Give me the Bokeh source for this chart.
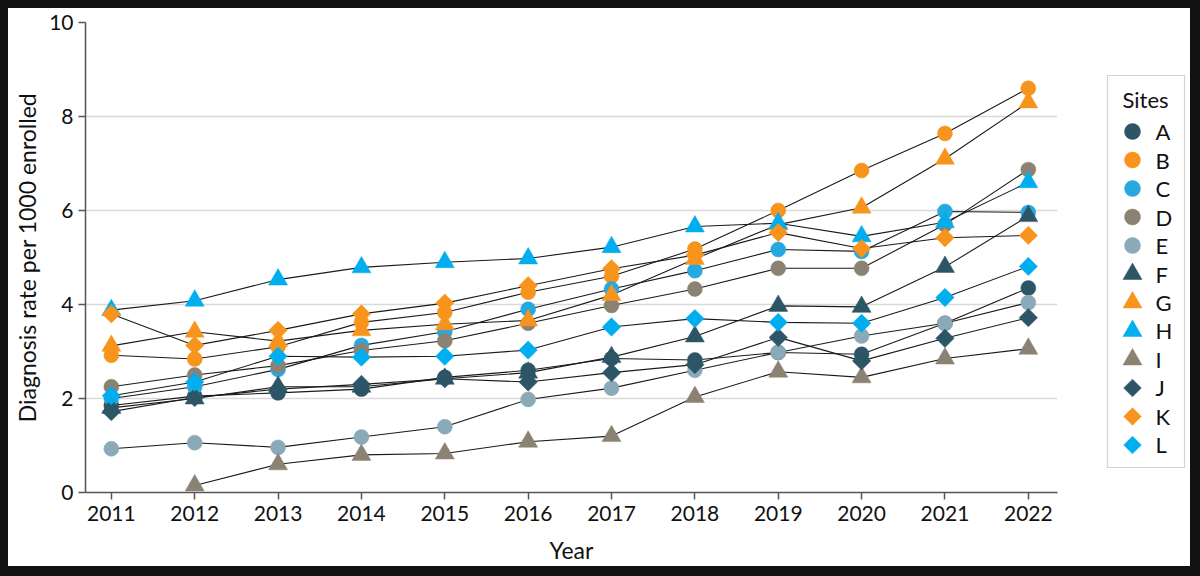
import numpy as np
from bokeh.plotting import figure
from bokeh.layouts import row
from bokeh.core.properties import value
from bokeh.models import (FixedTicker, GlobalInlineStyleSheet, Range1d, Label,
                          ColumnDataSource, BoxAnnotation)
from bokeh.embed import file_html
from bokeh.resources import INLINE

years = [2011, 2012, 2013, 2014, 2015, 2016, 2017, 2018, 2019, 2020, 2021, 2022]
nan = float("nan")

site_A = [1.85, 2.05, 2.12, 2.20, 2.45, 2.60, 2.85, 2.82, 2.98, 2.94, 3.60, 4.35]
site_B = [2.92, 2.84, 3.10, 3.62, 3.83, 4.26, 4.60, 5.18, 6.00, 6.85, 7.64, 8.60]
site_C = [2.00, 2.25, 2.62, 3.13, 3.42, 3.90, 4.33, 4.72, 5.17, 5.13, 5.98, 5.96]
site_D = [2.25, 2.50, 2.70, 3.02, 3.23, 3.60, 3.98, 4.33, 4.77, 4.77, 5.70, 6.87]
site_E = [0.93, 1.06, 0.96, 1.18, 1.40, 1.98, 2.22, 2.60, 2.98, 3.33, 3.60, 4.04]
site_F = [1.80, 2.00, 2.25, 2.25, 2.42, 2.55, 2.88, 3.32, 3.97, 3.95, 4.80, 5.88]
site_G = [3.12, 3.42, 3.22, 3.45, 3.58, 3.66, 4.20, 4.97, 5.70, 6.06, 7.10, 8.30]
site_H = [3.88, 4.08, 4.53, 4.79, 4.90, 4.98, 5.22, 5.66, 5.73, 5.45, 5.75, 6.60]
site_I = [nan, 0.15, 0.60, 0.80, 0.83, 1.08, 1.20, 2.03, 2.57, 2.45, 2.85, 3.06]
site_J = [1.72, 2.02, 2.20, 2.30, 2.42, 2.35, 2.55, 2.72, 3.30, 2.80, 3.28, 3.72]
site_K = [3.80, 3.13, 3.45, 3.80, 4.03, 4.40, 4.76, 5.05, 5.53, 5.19, 5.42, 5.47]
site_L = [2.06, 2.35, 2.90, 2.88, 2.90, 3.03, 3.52, 3.70, 3.62, 3.60, 4.15, 4.81]

site_names = ["A", "B", "C", "D", "E", "F", "G", "H", "I", "J", "K", "L"]
site_values = [site_A, site_B, site_C, site_D, site_E, site_F,
               site_G, site_H, site_I, site_J, site_K, site_L]

y_ticks = [0, 2, 4, 6, 8, 10]

TEAL = "#2c5566"
ORANGE = "#f7941d"
BLUE = "#00aeef"
TAUPE = "#8c8273"
GREYBLUE = "#8aa9b9"
site_colors = [TEAL, ORANGE, "#25a9e0", TAUPE, GREYBLUE,
               TEAL, ORANGE, BLUE, TAUPE,
               TEAL, ORANGE, BLUE]
site_markers = ["circle"] * 5 + ["triangle"] * 4 + ["square"] * 3
marker_size = {"circle": 15, "triangle": 19, "square": 13}
marker_angle = {"circle": 0.0, "triangle": 0.0, "square": np.pi / 4}

FONT = "Lato"
TXT = "#111111"

# ---------------- main chart ----------------
p = figure(width=1092, height=558, output_backend="svg", toolbar_location=None,
           x_range=(2010.69, 2022.35), y_range=(0, 10),
           min_border_left=77, min_border_right=43, min_border_top=14,
           min_border_bottom=74)
p.stylesheets = [GlobalInlineStyleSheet(
    css="html, body { background: #111111 !important; } "
        "body { padding: 8px !important; box-sizing: border-box; }")]
p.styles = {"background-color": "white"}
p.background_fill_color = "white"
p.border_fill_color = "white"
p.outline_line_color = None

p.xaxis.ticker = FixedTicker(ticks=years)
p.yaxis.ticker = FixedTicker(ticks=y_ticks)
p.xaxis.axis_label = "Year"
p.yaxis.axis_label = "Diagnosis rate per 1000 enrolled"
for ax in (p.xaxis[0], p.yaxis[0]):
    ax.axis_line_color = "#555555"
    ax.axis_line_width = 1.5
    ax.major_tick_line_color = "#555555"
    ax.major_tick_line_width = 1.5
    ax.major_tick_out = 7
    ax.major_tick_in = 0
    ax.minor_tick_line_color = None
    ax.major_label_text_font = FONT
    ax.major_label_text_font_size = "21px"
    ax.major_label_text_color = TXT
    ax.axis_label_text_font = FONT
    ax.axis_label_text_font_size = "23px"
    ax.axis_label_text_font_style = "normal"
    ax.axis_label_text_color = TXT
p.xaxis.major_label_standoff = 6
p.xaxis.axis_label_standoff = 12
p.yaxis.major_label_standoff = 5
p.yaxis.axis_label_standoff = 5

p.xgrid.grid_line_color = None
p.ygrid.grid_line_color = "#d9d9d9"
p.ygrid.grid_line_width = 1.5

for vals in site_values:
    p.line(years, vals, line_color="#1a1a1a", line_width=1.1)

for name, vals, col, mk in zip(site_names, site_values, site_colors, site_markers):
    p.scatter(years, vals, marker=mk, size=marker_size[mk],
              angle=marker_angle[mk], fill_color=col, line_color=col,
              line_width=0.5)

# ---------------- legend panel ("Sites") ----------------
# same top/bottom borders as the chart; rows indexed by site order (A at top)
leg = figure(width=90, height=558, output_backend="svg", toolbar_location=None,
             x_range=Range1d(0, 90), y_range=Range1d(12.667, -3.825),
             x_axis_type=None, y_axis_type=None,
             min_border_left=0, min_border_right=0, min_border_top=14,
             min_border_bottom=74)
leg.styles = {"background-color": "white"}
leg.background_fill_color = "white"
leg.border_fill_color = "white"
leg.outline_line_color = None
leg.grid.grid_line_color = None

leg.add_layout(BoxAnnotation(left=7, right=84, top=-1.965, bottom=11.789,
                             fill_color=None, fill_alpha=0.0, level="underlay",
                             line_color="#6a6a6a", line_width=1.2))

leg_src = ColumnDataSource(dict(
    row=list(range(len(site_names))),
    name=site_names,
    color=site_colors,
    marker=site_markers,
    size=[{"circle": 16, "triangle": 19, "square": 12.5}[m] for m in site_markers],
    angle=[marker_angle[m] for m in site_markers],
))
leg.scatter(x=32, y="row", source=leg_src, marker="marker", size="size",
            angle="angle", fill_color="color", line_color="color", line_width=0.5)
leg.text(x=55, y="row", text="name", source=leg_src, text_baseline="middle",
         text_align="left", text_font=value(FONT), text_font_size="22px",
         text_color=TXT)
leg.add_layout(Label(x=22, y=-1.12, text="Sites", text_baseline="middle",
                     text_font=FONT, text_font_size="22px", text_color=TXT))

layout = row(p, leg, spacing=0)
open("out.html", "w").write(file_html(layout, INLINE))
